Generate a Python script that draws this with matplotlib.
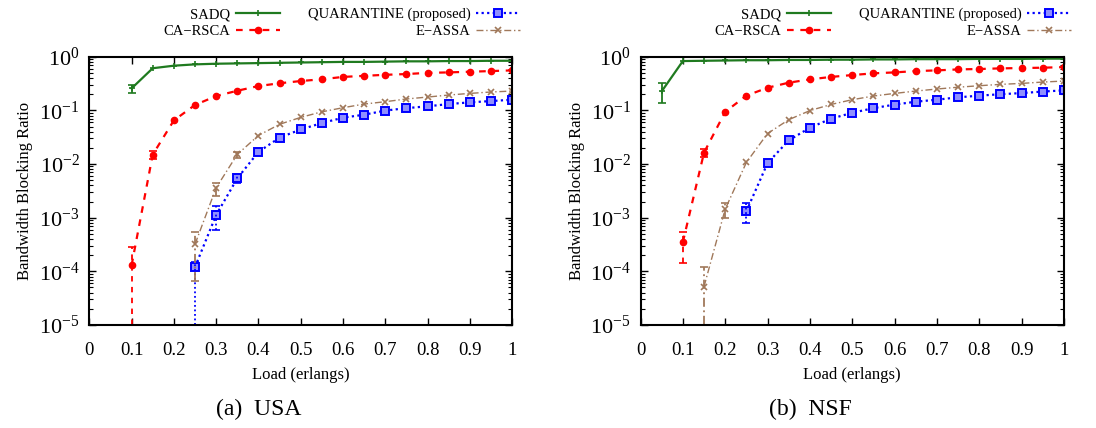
import numpy as np
import matplotlib
matplotlib.use("Agg")
import matplotlib.pyplot as plt
from matplotlib.legend import Legend
from matplotlib.ticker import LogLocator, FixedLocator, NullFormatter

plt.rcParams['font.family'] = ['Liberation Serif', 'DejaVu Serif']
plt.rcParams['mathtext.fontset'] = 'stix'

# ---- data ----
load = [0.10, 0.15, 0.20, 0.25, 0.30, 0.35, 0.40, 0.45, 0.50, 0.55,
        0.60, 0.65, 0.70, 0.75, 0.80, 0.85, 0.90, 0.95, 1.00]

# USA
usa_sadq = [0.257, 0.61, 0.68, 0.72, 0.74, 0.75, 0.76, 0.77, 0.78, 0.79,
            0.80, 0.80, 0.81, 0.82, 0.82, 0.83, 0.83, 0.84, 0.84]
usa_carsca = [1.3e-4, 0.015, 0.065, 0.126, 0.185, 0.232, 0.284, 0.32, 0.352, 0.38,
              0.42, 0.44, 0.46, 0.475, 0.50, 0.51, 0.525, 0.54, 0.556]
usa_load_q = load[3:]
usa_quar = [1.2e-4, 1.12e-3, 5.4e-3, 0.0168, 0.031, 0.044, 0.058, 0.073, 0.083,
            0.099, 0.11, 0.119, 0.131, 0.141, 0.149, 0.158]
usa_eassa = [3.2e-4, 3.6e-3, 0.0151, 0.034, 0.055, 0.074, 0.094, 0.112, 0.131,
             0.145, 0.163, 0.177, 0.193, 0.207, 0.22, 0.229]

# NSF
nsf_load_s = [0.05] + load
nsf_sadq = [0.226, 0.83, 0.84, 0.85, 0.86, 0.86, 0.87, 0.87, 0.88, 0.88, 0.89,
            0.89, 0.90, 0.90, 0.90, 0.91, 0.91, 0.91, 0.92, 0.92]
nsf_carsca = [3.5e-4, 0.0163, 0.094, 0.188, 0.264, 0.328, 0.378, 0.42, 0.455, 0.49,
              0.51, 0.54, 0.556, 0.58, 0.59, 0.606, 0.615, 0.624, 0.64]
nsf_load_e = load[1:]
nsf_eassa = [5.2e-5, 1.44e-3, 0.0107, 0.037, 0.067, 0.099, 0.129, 0.158, 0.185,
             0.207, 0.229, 0.25, 0.27, 0.288, 0.305, 0.318, 0.337, 0.352]
nsf_load_q = load[3:]
nsf_quar = [1.32e-3, 0.0104, 0.0276, 0.0475, 0.07, 0.09, 0.11, 0.128, 0.145,
            0.158, 0.175, 0.188, 0.2, 0.21, 0.224, 0.236]

# visible error bars: x, lower bound, upper bound (lower 1e-6 = below axis)
usa_err_sadq = ([0.10], [0.21], [0.30])
usa_err_carsca = ([0.10, 0.15], [1e-6, 0.0125], [2.8e-4, 0.0175])
usa_err_quar = ([0.25, 0.30, 0.35], [1e-6, 5.9e-4, 4.4e-3], [1.5e-4, 1.66e-3, 6.6e-3])
usa_err_eassa = ([0.25, 0.30, 0.35], [6.5e-5, 2.5e-3, 0.013], [5.5e-4, 4.5e-3, 0.017])

nsf_err_sadq = ([0.05], [0.135], [0.32])
nsf_err_carsca = ([0.10, 0.15], [1.4e-4, 0.0135], [5.5e-4, 0.019])
nsf_err_quar = ([0.25], [7.8e-4], [1.86e-3])
nsf_err_eassa = ([0.15, 0.20], [1e-6, 1.0e-3], [1.2e-4, 1.9e-3])

names = ['SADQ', 'CA\u2212RSCA', 'QUARANTINE (proposed)', 'E\u2212ASSA']
colors = ['#1f7a1f', '#ff0000', '#0000ff', '#a0785a']
styles = [dict(ls='-', lw=1.6, marker='+', ms=5, mew=1.2),
          dict(ls=(0, (3, 3)), lw=1.6, marker='o', ms=4.5),
          dict(ls=(0, (1, 1.5)), lw=1.6, marker='s', ms=5.5, mfc='#8f8fff', mew=1.4),
          dict(ls=(0, (5, 2, 1, 2)), lw=1.0, marker='x', ms=5, mew=1.2)]

W, H = 1096, 428


def draw(ax, series, errs):
    handles = []
    for (x, y), (ex, elo, ehi), c, st in zip(series, errs, colors, styles):
        h, = ax.plot(x, y, color=c, **st)
        handles.append(h)
        # error bars from the bounds
        ey = [y[x.index(v)] for v in ex]
        lo = np.array(ey) - np.array(elo)
        hi = np.array(ehi) - np.array(ey)
        eb = ax.errorbar(ex, ey, yerr=[lo, hi], fmt='none', ecolor=c,
                         elinewidth=1.3, capsize=3, capthick=1.2)
        eb.lines[2][0].set_linestyle(st['ls'])
    ax.set_yscale('log')
    ax.set_ylim(1e-5, 1)
    ax.set_xlim(0, 1)
    ax.xaxis.set_major_locator(FixedLocator(np.arange(0, 1.01, 0.1)))
    ax.set_xticklabels(['0', '0.1', '0.2', '0.3', '0.4', '0.5', '0.6', '0.7',
                        '0.8', '0.9', '1'])
    ax.yaxis.set_major_locator(LogLocator(base=10, numticks=10))
    ax.yaxis.set_minor_locator(LogLocator(base=10, subs=np.arange(2, 10), numticks=10))
    ax.yaxis.set_minor_formatter(NullFormatter())
    ax.tick_params(which='both', direction='in', top=True, right=True)
    ax.tick_params(axis='x', labelsize=13.5, pad=12)
    ax.tick_params(axis='y', labelsize=16, pad=7)
    ax.tick_params(which='major', length=5, width=1)
    ax.tick_params(which='minor', length=3, width=0.8)
    for sp in ax.spines.values():
        sp.set_linewidth(1.5)
    ax.set_xlabel('Load (erlangs)', fontsize=12, labelpad=6)
    ax.set_ylabel('Bandwidth Blocking Ratio', fontsize=12, labelpad=4)
    return handles


fig = plt.figure(figsize=(W / 100, H / 100), dpi=100)
ax1 = fig.add_axes([0.0815, 0.2407, 0.3857, 0.6268])
ax2 = fig.add_axes([0.5844, 0.2407, 0.3864, 0.6268])

h1 = draw(ax1, [(load, usa_sadq), (load, usa_carsca), (usa_load_q, usa_quar),
                (usa_load_q, usa_eassa)],
          [usa_err_sadq, usa_err_carsca, usa_err_quar, usa_err_eassa])
h2 = draw(ax2, [(nsf_load_s, nsf_sadq), (load, nsf_carsca), (nsf_load_q, nsf_quar),
                (nsf_load_e, nsf_eassa)],
          [nsf_err_sadq, nsf_err_carsca, nsf_err_quar, nsf_err_eassa])

# gnuplot-like key: two columns, text then sample
for ax, h, shift in [(ax1, h1, 0), (ax2, h2, 551)]:
    for idx, xr in [((0, 1), 280), ((2, 3), 520)]:
        leg = Legend(ax, [h[i] for i in idx], [names[i] for i in idx],
                     markerfirst=False, frameon=False, fontsize=10.5,
                     loc='upper right',
                     bbox_to_anchor=((xr + shift) / W, 1 - 8 / H),
                     bbox_transform=fig.transFigure, handlelength=3.0,
                     handletextpad=0.4, labelspacing=0.25,
                     borderpad=0, borderaxespad=0)
        ax.add_artist(leg)

fig.text(0.2363, 0.03, '(a)  USA', ha='center', fontsize=17)
fig.text(0.7390, 0.03, '(b)  NSF', ha='center', fontsize=17)

plt.savefig('out.png', dpi=100)
